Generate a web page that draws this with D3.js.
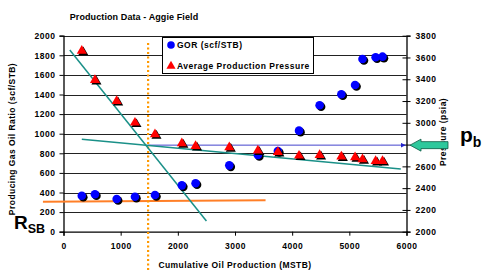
<!DOCTYPE html>
<html>
<head>
<meta charset="utf-8">
<script src="https://cdn.jsdelivr.net/npm/d3@7"></script>
<style>
  body { margin: 0; background: #fff; }
  text { font-family: Arial, "Liberation Sans", sans-serif; }
</style>
</head>
<body>
<div id="chart"></div>
<script>
// Cumulative oil production (MSTB) for each survey
var cumOil = [320, 550, 930, 1250, 1600, 2070, 2310, 2900, 3400, 3750, 4120, 4480, 4860, 5100, 5230, 5460, 5580];
// Producing GOR (scf/STB), left axis
var gor = [367, 382, 334, 357, 374, 473, 494, 677, 783, 823, 1031, 1290, 1402, 1497, 1762, 1780, 1786];
// Average production pressure (psia), right axis
var pressure = [3660, 3393, 3200, 3001, 2894, 2812, 2787, 2775, 2744, 2732, 2698, 2704, 2689, 2683, 2665, 2649, 2649];

var xTicks = [0, 1000, 2000, 3000, 4000, 5000, 6000];
var gorTicks = [0, 200, 400, 600, 800, 1000, 1200, 1400, 1600, 1800, 2000];
var pTicks = [2000, 2200, 2400, 2600, 2800, 3000, 3200, 3400, 3600, 3800];

// hand drawn trend lines (x in MSTB, y in scf/STB on the left axis)
var steepTrend = [[110, 1855], [2500, 110]];
var flatTrend = [[320, 943], [5900, 640]];
var rsbLine = [[-360, 305], [3535, 322]];
// bubble point lines
var bubbleX = 1480;      // MSTB, dotted vertical
var bubbleTop = 1925;    // scf/STB, top of dotted line
var pb = 2795;           // psia

var width = 488, height = 272;

var svg = d3.select("#chart").append("svg")
  .attr("width", width)
  .attr("height", height);

var x = d3.scaleLinear().domain([0, 6000]).range([63.5, 406.5]);
var yL = d3.scaleLinear().domain([0, 2000]).range([231.7, 35.7]);
var yR = d3.scaleLinear().domain([2000, 3800]).range([231.7, 35.7]);

// small text in the excel chart is spaced out a bit
function label(sel, size, spacing) {
  return sel.style("font-size", size + "px").style("font-weight", "bold")
    .style("letter-spacing", spacing + "px");
}

// title
label(svg.append("text"), 9, 0.1)
  .attr("x", 134).attr("y", 20)
  .attr("text-anchor", "middle")
  .text("Production Data - Aggie Field");

// horizontal gridlines
svg.append("g").selectAll("line")
  .data(gorTicks.slice(1))
  .join("line")
  .attr("x1", x(0)).attr("x2", x(6000))
  .attr("y1", d => Math.round(yL(d)) + 0.5).attr("y2", d => Math.round(yL(d)) + 0.5)
  .style("stroke", "#222").style("stroke-width", 1);

// axes
var fmt = d3.format("d");
var leftAxis = svg.append("g")
  .attr("transform", "translate(" + x(0) + ",0)")
  .call(d3.axisLeft(yL).tickValues(gorTicks).tickFormat(fmt).tickSize(4).tickPadding(4));

var rightAxis = svg.append("g")
  .attr("transform", "translate(" + x(6000) + ",0)")
  .call(d3.axisRight(yR).tickValues(pTicks).tickFormat(fmt).tickSize(4).tickPadding(5));

var bottomAxis = svg.append("g")
  .attr("transform", "translate(0," + yL(0) + ")")
  .call(d3.axisBottom(x).tickValues(xTicks).tickFormat(fmt).tickSize(4).tickPadding(7));

[leftAxis, rightAxis, bottomAxis].forEach(function (g) {
  g.select(".domain").style("stroke", "#000").style("stroke-width", 1.3);
  g.selectAll(".tick line").style("stroke", "#000");
  label(g.selectAll(".tick text"), 8.5, 0.5)
    .style("font-family", "Arial, 'Liberation Sans', sans-serif")
    .attr("fill", "#000");
});
// right ticks cross the axis
rightAxis.selectAll(".tick line").attr("x1", -4);

// axis titles
label(svg.append("text"), 8.5, 0.45)
  .attr("transform", "translate(15,139) rotate(-90)")
  .attr("text-anchor", "middle")
  .text("Producing Gas Oil Ratio (scf/STB)");

label(svg.append("text"), 8.5, 0.45)
  .attr("transform", "translate(446,132) rotate(-90)")
  .attr("text-anchor", "middle")
  .text("Pressure (psia)");

label(svg.append("text"), 8.5, 0.45)
  .attr("x", 235).attr("y", 267.5)
  .attr("text-anchor", "middle")
  .text("Cumulative Oil Production (MSTB)");

// annotation lines
var line = d3.line().x(d => x(d[0])).y(d => yL(d[1]));

svg.append("path").datum(rsbLine)
  .attr("d", line)
  .style("fill", "none").style("stroke", "#ff7f27").style("stroke-width", 2);

svg.append("line")
  .attr("x1", x(bubbleX)).attr("x2", x(bubbleX))
  .attr("y1", yL(bubbleTop)).attr("y2", height)
  .style("stroke", "#ff9900").style("stroke-width", 2.2)
  .style("stroke-dasharray", "2,2.5");

// pb line with small arrowhead at the right axis
svg.append("defs").append("marker")
  .attr("id", "blueHead")
  .attr("viewBox", "0 0 10 10")
  .attr("refX", 10).attr("refY", 5)
  .attr("markerWidth", 5).attr("markerHeight", 5)
  .attr("orient", "auto")
  .append("path").attr("d", "M0,0L10,5L0,10Z").style("fill", "#2222cc");

svg.append("line")
  .attr("x1", x(bubbleX)).attr("x2", x(6000) - 1)
  .attr("y1", yR(pb)).attr("y2", yR(pb))
  .style("stroke", "#4444cc").style("stroke-width", 1)
  .attr("marker-end", "url(#blueHead)");

svg.append("path").datum(steepTrend)
  .attr("d", line)
  .style("fill", "none").style("stroke", "#1a9088").style("stroke-width", 1.5);

svg.append("path").datum(flatTrend)
  .attr("d", line)
  .style("fill", "none").style("stroke", "#1a9088").style("stroke-width", 1.5);

// data points with drop shadows
var circlesG = svg.append("g");
cumOil.forEach(function (c, i) {
  circlesG.append("circle")
    .attr("cx", x(c) + 1.5).attr("cy", yL(gor[i]) + 1.5).attr("r", 4.3)
    .style("fill", "#000");
  circlesG.append("circle")
    .attr("cx", x(c)).attr("cy", yL(gor[i])).attr("r", 4.3)
    .style("fill", "#0000ff");
});

var tri = d3.symbol().type(d3.symbolTriangle).size(44);
var triG = svg.append("g");
cumOil.forEach(function (c, i) {
  triG.append("path")
    .attr("d", tri)
    .attr("transform", "translate(" + (x(c) + 1.5) + "," + (yR(pressure[i]) + 1.5) + ")")
    .style("fill", "#000");
  triG.append("path")
    .attr("d", tri)
    .attr("transform", "translate(" + x(c) + "," + yR(pressure[i]) + ")")
    .style("fill", "#ff0000");
});

// legend
var legend = svg.append("g");
legend.append("rect")
  .attr("x", 162.5).attr("y", 37.5).attr("width", 151).attr("height", 36)
  .style("fill", "#fff").style("stroke", "#000").style("stroke-width", 1);
legend.append("circle").attr("cx", 171).attr("cy", 45).attr("r", 3.8).style("fill", "#0000ff");
legend.append("path").attr("d", d3.symbol().type(d3.symbolTriangle).size(36))
  .attr("transform", "translate(171,66)").style("fill", "#ff0000");
label(legend.append("text"), 8.5, 0.5).attr("x", 177).attr("y", 48)
  .text("GOR (scf/STB)");
label(legend.append("text"), 8.5, 0.5).attr("x", 177).attr("y", 69)
  .text("Average Production Pressure");

// pb arrow pointing at the right axis
var ay = yR(pb);
svg.append("path")
  .attr("d", "M410," + ay + "L421," + (ay - 6) + "L421," + (ay - 3.5) + "L448," + (ay - 3.5) +
    "L448," + (ay + 3.5) + "L421," + (ay + 3.5) + "L421," + (ay + 6) + "Z")
  .style("fill", "#2ec89c").style("stroke", "#0c5a44").style("stroke-width", 0.8);

// big labels
var pbText = svg.append("text").attr("x", 460).attr("y", 142)
  .style("font-size", "21px").style("font-weight", "bold");
pbText.append("tspan").text("p");
pbText.append("tspan").attr("dy", 4.5).style("font-size", "14px").text("b");

var rsbText = svg.append("text").attr("x", 14).attr("y", 229)
  .style("font-size", "19px").style("font-weight", "bold");
rsbText.append("tspan").text("R");
rsbText.append("tspan").attr("dy", 4).style("font-size", "12.5px").text("SB");
</script>
</body>
</html>
